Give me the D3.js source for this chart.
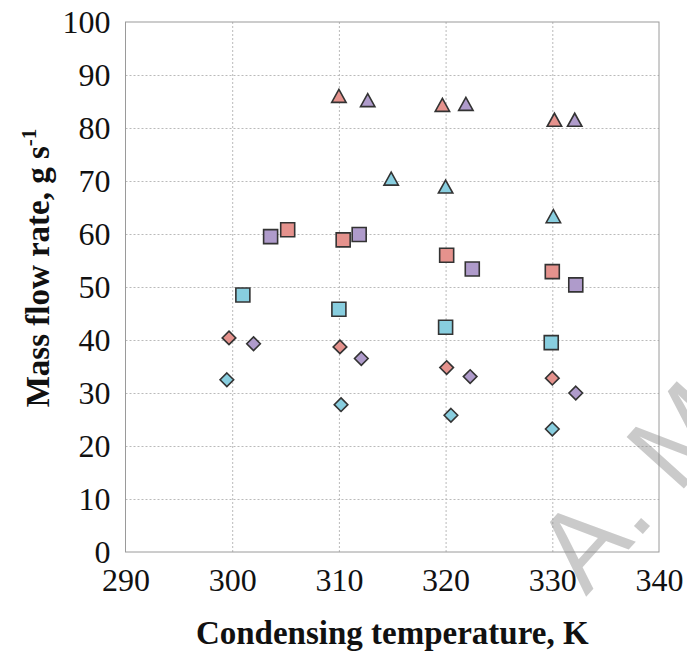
<!DOCTYPE html>
<html>
<head>
<meta charset="utf-8">
<script src="https://cdn.jsdelivr.net/npm/d3@7"></script>
<style>
  body { margin: 0; background: #fff; }
  svg { display: block; }
</style>
</head>
<body>
<div id="chart"></div>
<script>
// Condensing temperature (K) and mass flow rate (g/s) for each series
let red_tri_t    = [310.0, 319.7, 330.2];
let red_tri_m    = [86.0, 84.3, 81.5];
let purple_tri_t = [312.7, 321.9, 332.1];
let purple_tri_m = [85.2, 84.5, 81.5];
let cyan_tri_t   = [314.9, 320.0, 330.1];
let cyan_tri_m   = [70.4, 68.9, 63.3];

let red_sq_t    = [305.2, 310.4, 320.1, 330.0];
let red_sq_m    = [60.8, 58.9, 56.0, 52.9];
let purple_sq_t = [303.6, 311.9, 322.5, 332.2];
let purple_sq_m = [59.5, 59.9, 53.4, 50.4];
let cyan_sq_t   = [301.0, 310.0, 320.0, 329.9];
let cyan_sq_m   = [48.5, 45.8, 42.4, 39.5];

let red_dia_t    = [299.7, 310.1, 320.1, 330.0];
let red_dia_m    = [40.4, 38.7, 34.8, 32.8];
let purple_dia_t = [302.0, 312.1, 322.3, 332.2];
let purple_dia_m = [39.3, 36.5, 33.1, 30.0];
let cyan_dia_t   = [299.5, 310.2, 320.5, 330.0];
let cyan_dia_m   = [32.5, 27.8, 25.8, 23.2];

let x_ticks = [290, 300, 310, 320, 330, 340];
let y_ticks = [0, 10, 20, 30, 40, 50, 60, 70, 80, 90, 100];

let colors = { red: '#E5928D', purple: '#AF9BCB', cyan: '#88CEDF' };

let series = [
    { t: red_tri_t,    m: red_tri_m,    color: colors.red,    shape: 'tri' },
    { t: purple_tri_t, m: purple_tri_m, color: colors.purple, shape: 'tri' },
    { t: cyan_tri_t,   m: cyan_tri_m,   color: colors.cyan,   shape: 'tri' },
    { t: red_sq_t,     m: red_sq_m,     color: colors.red,    shape: 'sq' },
    { t: purple_sq_t,  m: purple_sq_m,  color: colors.purple, shape: 'sq' },
    { t: cyan_sq_t,    m: cyan_sq_m,    color: colors.cyan,   shape: 'sq' },
    { t: red_dia_t,    m: red_dia_m,    color: colors.red,    shape: 'dia' },
    { t: purple_dia_t, m: purple_dia_m, color: colors.purple, shape: 'dia' },
    { t: cyan_dia_t,   m: cyan_dia_m,   color: colors.cyan,   shape: 'dia' }
];

let serif = '"Liberation Serif", "Times New Roman", serif';

let chart_width = 687;
let chart_height = 653;
let margin = { left: 125.5, top: 22, right: 28, bottom: 101 };
let w = chart_width - margin.left - margin.right;
let h = chart_height - margin.top - margin.bottom;

let svg = d3.select('#chart')
    .append('svg')
    .attr('width', chart_width)
    .attr('height', chart_height);

let g = svg.append('g')
    .attr('transform', 'translate(' + margin.left + ',' + margin.top + ')');

let x_scale = d3.scaleLinear().domain([290, 340]).range([0, w]);
let y_scale = d3.scaleLinear().domain([0, 100]).range([h, 0]);

// Gridlines
g.append('g')
    .attr('class', 'grid')
    .attr('transform', 'translate(0,' + h + ')')
    .call(d3.axisBottom(x_scale).tickValues(x_ticks.slice(1, -1)).tickSize(-h).tickFormat(''));
g.append('g')
    .attr('class', 'grid')
    .call(d3.axisLeft(y_scale).tickValues(y_ticks.slice(1, -1)).tickSize(-w).tickFormat(''));
g.selectAll('.grid .domain').remove();
g.selectAll('.grid line')
    .attr('stroke', '#bababa')
    .attr('stroke-width', 1)
    .attr('stroke-dasharray', '2,2');

// Plot border
g.append('rect')
    .attr('width', w)
    .attr('height', h)
    .attr('fill', 'none')
    .attr('stroke', '#9a9a9a')
    .attr('stroke-width', 1);

// Axes labels
let x_axis = g.append('g')
    .attr('class', 'axis')
    .attr('transform', 'translate(0,' + h + ')')
    .call(d3.axisBottom(x_scale).tickValues(x_ticks).tickSize(0).tickPadding(16));
let y_axis = g.append('g')
    .attr('class', 'axis')
    .call(d3.axisLeft(y_scale).tickValues(y_ticks).tickSize(0).tickPadding(15));
g.selectAll('.axis .domain').remove();
g.selectAll('.axis')
    .attr('font-family', serif)
    .attr('font-size', 32);
g.selectAll('.axis .tick text')
    .style('font-family', serif)
    .style('font-size', '32px')
    .attr('fill', '#111');

// Markers
function shapePath(shape) {
    if (shape === 'sq') return 'M-7,-7H7V7H-7Z';
    if (shape === 'tri') return 'M0,-6.8L7.2,6.2H-7.2Z';
    return 'M0,-6.8L6.8,0L0,6.8L-6.8,0Z';
}

series.forEach(function(s) {
    g.append('g').selectAll('path')
        .data(d3.range(s.t.length))
        .enter()
        .append('path')
        .attr('d', shapePath(s.shape))
        .attr('transform', function(i) {
            return 'translate(' + x_scale(s.t[i]) + ',' + y_scale(s.m[i]) + ')';
        })
        .attr('fill', s.color)
        .attr('stroke', '#333')
        .attr('stroke-width', 1.6)
        .attr('stroke-linejoin', 'miter');
});

// Axis titles
svg.append('text')
    .attr('x', margin.left + w / 2)
    .attr('y', 644)
    .attr('text-anchor', 'middle')
    .attr('font-family', serif)
    .attr('font-weight', 'bold')
    .attr('font-size', 33)
    .attr('fill', '#111')
    .text('Condensing temperature, K');

let y_title = svg.append('text')
    .attr('transform', 'translate(49,268) rotate(-90)')
    .attr('text-anchor', 'middle')
    .attr('font-family', serif)
    .attr('font-weight', 'bold')
    .attr('font-size', 33)
    .attr('fill', '#111');
y_title.append('tspan').text('Mass flow rate, g s');
y_title.append('tspan')
    .attr('font-size', 21)
    .attr('dy', -13)
    .text('-1');

// Watermark
svg.append('text')
    .attr('transform', 'translate(586,597) rotate(-48)')
    .attr('font-family', '"Liberation Sans", Arial, sans-serif')
    .attr('font-size', 112)
    .attr('fill', '#8a8a8a')
    .attr('fill-opacity', 0.45)
    .text('A. M');
</script>
</body>
</html>
